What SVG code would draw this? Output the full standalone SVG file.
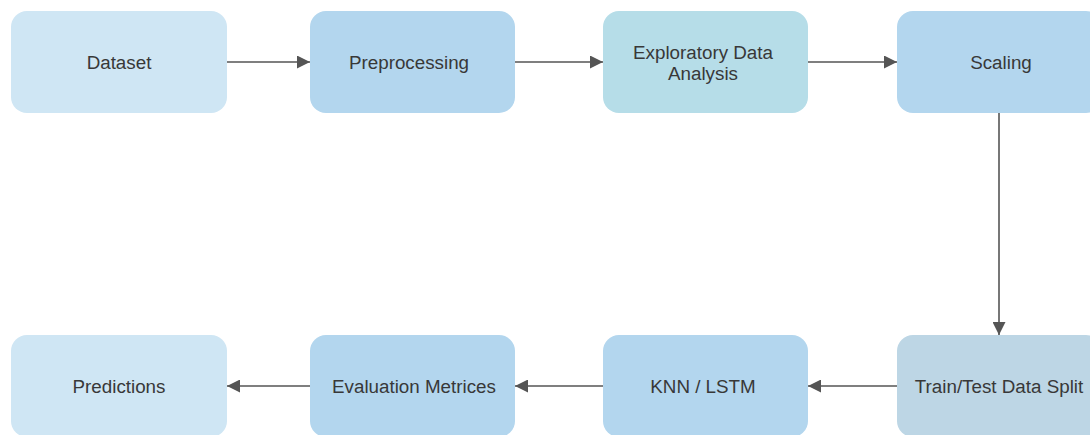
<svg xmlns="http://www.w3.org/2000/svg" width="1090" height="435" viewBox="0 0 1090 435">
<style>
text{font-family:"Liberation Sans",Arial,sans-serif;font-size:18.8px;fill:#383838;text-anchor:middle;dominant-baseline:central}
.c{stroke:#555;stroke-width:1.6;fill:none}
</style>
<defs>
<marker id="a" viewBox="0 0 10 10" refX="10" refY="5" markerWidth="13" markerHeight="13" markerUnits="userSpaceOnUse" orient="auto"><path d="M0,0L10,5L0,10z" fill="#555"/></marker>
</defs>
<rect width="1090" height="435" fill="#fff"/>
<g id="connectors">
<line class="c" x1="227" y1="62" x2="310" y2="62" marker-end="url(#a)"/>
<line class="c" x1="515" y1="62" x2="603" y2="62" marker-end="url(#a)"/>
<line class="c" x1="808" y1="62" x2="897" y2="62" marker-end="url(#a)"/>
<line class="c" x1="999" y1="113" x2="999" y2="335" marker-end="url(#a)"/>
<line class="c" x1="897" y1="386" x2="808" y2="386" marker-end="url(#a)"/>
<line class="c" x1="603" y1="386" x2="515" y2="386" marker-end="url(#a)"/>
<line class="c" x1="310" y1="386" x2="227" y2="386" marker-end="url(#a)"/>
</g>
<g id="dataset"><rect x="11" y="11" width="216" height="102" rx="16" fill="#cfe6f4"/><text x="119" y="62">Dataset</text></g>
<g id="preprocessing"><rect x="310" y="11" width="205" height="102" rx="16" fill="#b3d6ee"/><text x="409" y="62">Preprocessing</text></g>
<g id="eda"><rect x="603" y="11" width="205" height="102" rx="16" fill="#b6dde8"/><text x="703" y="52">Exploratory Data</text><text x="703" y="73">Analysis</text></g>
<g id="scaling"><rect x="897" y="11" width="205" height="102" rx="16" fill="#b3d6ee"/><text x="1001" y="62">Scaling</text></g>
<g id="split"><rect x="897" y="335" width="205" height="102" rx="16" fill="#bdd6e5"/><text x="999" y="386">Train/Test Data Split</text></g>
<g id="knn"><rect x="603" y="335" width="205" height="102" rx="16" fill="#b3d6ee"/><text x="703" y="386">KNN / LSTM</text></g>
<g id="eval"><rect x="310" y="335" width="205" height="102" rx="16" fill="#b3d6ee"/><text x="414" y="386">Evaluation Metrices</text></g>
<g id="predictions"><rect x="11" y="335" width="216" height="102" rx="16" fill="#cfe6f4"/><text x="119" y="386">Predictions</text></g>
</svg>
